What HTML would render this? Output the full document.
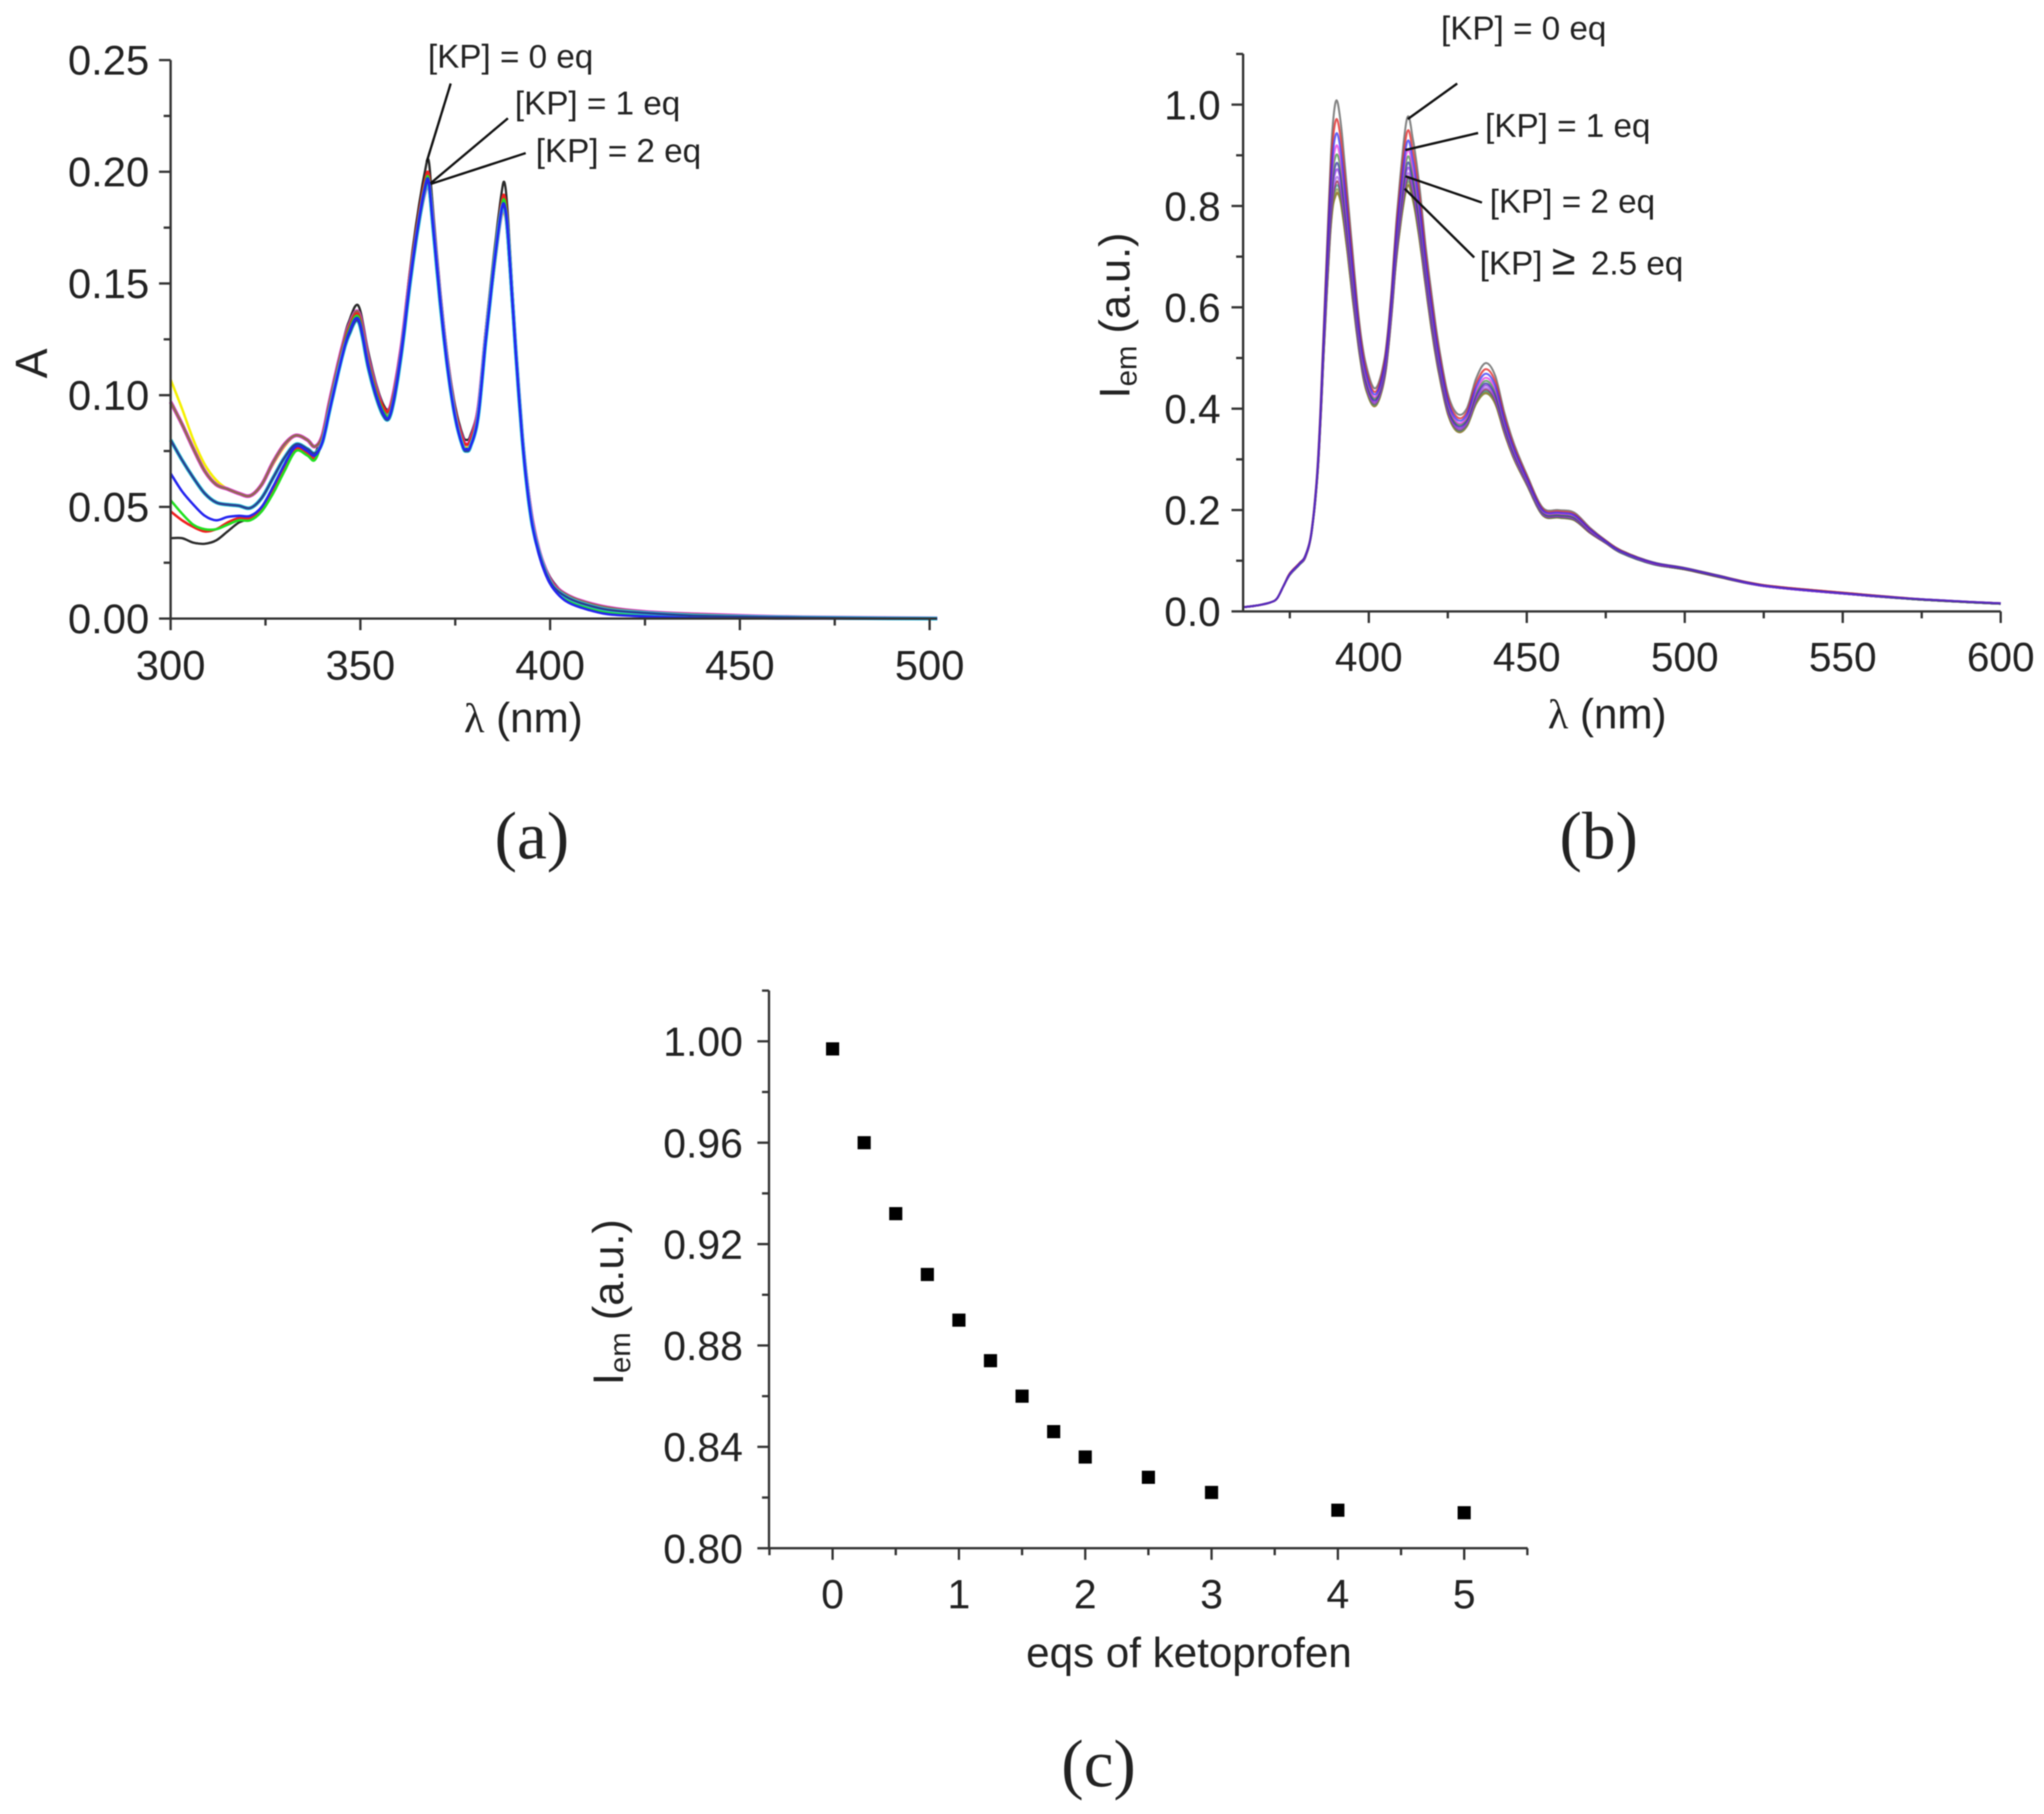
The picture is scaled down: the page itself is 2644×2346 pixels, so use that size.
<!DOCTYPE html>
<html lang="en">
<head>
<meta charset="utf-8">
<title>Absorption and emission titration with ketoprofen</title>
<style>
html,body{margin:0;padding:0;background:#fff;}
body{width:2644px;height:2346px;overflow:hidden;}
svg{display:block;filter:blur(0.7px);}
text{font-family:"Liberation Sans",Arial,sans-serif;fill:#222;}
.title{font-size:54.5px;}
.note{font-size:43px;}
.cap{font-family:"Liberation Serif","Times New Roman",serif;font-size:87px;}
.lam{font-family:"Liberation Serif","Times New Roman",serif;}
</style>
</head>
<body>
<svg id="figure" width="2644" height="2346" viewBox="0 0 2644 2346" xmlns="http://www.w3.org/2000/svg">
  <g id="panel-a">
    <g id="a-curves"></g>
    <g id="a-axes"></g>
    <text font-size="58" transform="translate(61,470) rotate(-90)" text-anchor="middle">A</text>
    <text class="title" x="677" y="947" text-anchor="middle"><tspan class="lam">λ</tspan> (nm)</text>
    <text class="note" x="553.5" y="87.5">[KP] = 0 eq</text>
    <text class="note" x="666" y="148">[KP] = 1 eq</text>
    <text class="note" x="693" y="209.5">[KP] = 2 eq</text>
    <line x1="583" y1="108" x2="552" y2="209" stroke="#111" stroke-width="3"/>
    <line x1="657" y1="153" x2="557" y2="237" stroke="#111" stroke-width="3"/>
    <line x1="680" y1="198" x2="557" y2="238" stroke="#111" stroke-width="3"/>
    <text class="cap" x="688" y="1110" text-anchor="middle">(a)</text>
  </g>
  <g id="panel-b">
    <g id="b-curves" stroke-opacity="0.72"></g>
    <g id="b-axes"></g>
    <text font-size="56" transform="translate(1461,408) rotate(-90)" text-anchor="middle">I<tspan font-size="38" dy="9">em</tspan><tspan dy="-9"> (a.u.)</tspan></text>
    <text class="title" x="2079" y="942" text-anchor="middle"><tspan class="lam">λ</tspan> (nm)</text>
    <text class="note" x="1864" y="51">[KP] = 0 eq</text>
    <text class="note" x="1921" y="177">[KP] = 1 eq</text>
    <text class="note" x="1927" y="275">[KP] = 2 eq</text>
    <text class="note" x="1914" y="355">[KP] <tspan font-size="56">≥</tspan><tspan dx="8"> 2.5 eq</tspan></text>
    <line x1="1885" y1="108" x2="1821" y2="154" stroke="#111" stroke-width="3"/>
    <line x1="1912" y1="172" x2="1818" y2="194" stroke="#111" stroke-width="3"/>
    <line x1="1917" y1="262" x2="1818" y2="228" stroke="#111" stroke-width="3"/>
    <line x1="1907" y1="333" x2="1817" y2="244" stroke="#111" stroke-width="3"/>
    <text class="cap" x="2068" y="1110" text-anchor="middle">(b)</text>
  </g>
  <g id="panel-c">
    <g id="c-points"></g>
    <g id="c-axes"></g>
    <text font-size="56" transform="translate(806,1684) rotate(-90)" text-anchor="middle">I<tspan font-size="38" dy="9">em</tspan><tspan dy="-9"> (a.u.)</tspan></text>
    <text class="title" x="1538" y="2156" text-anchor="middle">eqs of ketoprofen</text>
    <text class="cap" x="1421" y="2310" text-anchor="middle">(c)</text>
  </g>
</svg>
<script>
// ---------- Panel (a): absorbance spectra ----------
const absWavelengths = [300,303,306,309,312,315,318,321,324,327,330,333,336,338,340,342,345,347,349.5,352,354,356,357.5,359,361,363,365,367,368,369,371,373,375,377,378,379,381,383,385,387,388,389,391,393,395,397,399,401,404,408,415,425,440,460,480,502];
const absBlack = [.036,.036,.034,.0335,.035,.039,.043,.045,.049,.058,.069,.078,.076,.074,.083,.098,.121,.133,.140,.120,.106,.096,.094,.104,.126,.155,.180,.200,.205,.186,.148,.117,.095,.082,.080,.082,.095,.129,.160,.188,.195,.177,.122,.078,.049,.032,.022,.016,.011,.008,.005,.003,.0017,.0008,.0003,.0001];
const absYellow = [.107,.094,.080,.069,.062,.058,.056,.055,.060,.069,.077,.082,.080,.077,.081,.097,.119,.130,.136,.116,.103,.094,.092,.102,.122,.150,.172,.190,.193,.179,.143,.114,.092,.079,.077,.079,.092,.125,.152,.178,.181,.167,.118,.075,.047,.031,.021,.015,.011,.008,.005,.003,.0018,.0008,.0004,.0001];
const absBrown = [.097,.087,.076,.066,.060,.058,.056,.055,.060,.070,.078,.082,.080,.077,.082,.098,.120,.131,.137,.117,.104,.094,.093,.103,.124,.152,.174,.191,.194,.180,.144,.114,.092,.080,.078,.080,.093,.126,.155,.180,.183,.169,.119,.075,.047,.031,.021,.015,.011,.008,.005,.003,.0018,.0008,.0004,.0001];
const absRed = [.048,.044,.041,.039,.040,.043,.045,.045,.049,.058,.068,.076,.074,.072,.081,.096,.118,.130,.136,.116,.103,.095,.093,.102,.124,.153,.177,.196,.199,.182,.145,.115,.093,.080,.078,.080,.093,.127,.158,.184,.189,.173,.120,.076,.047,.031,.021,.015,.010,.007,.004,.0025,.0012,.0005,.0002,0];
const absGreen = [.053,.047,.042,.040,.040,.042,.044,.044,.048,.056,.066,.075,.073,.071,.080,.095,.117,.129,.135,.115,.102,.093,.091,.101,.123,.151,.175,.194,.197,.180,.144,.113,.091,.078,.076,.078,.091,.125,.156,.182,.187,.171,.119,.075,.046,.030,.020,.014,.009,.006,.003,.0015,.0005,.0002,0,0];
const absNavy = [.080,.071,.063,.056,.052,.051,.0505,.0495,.054,.063,.072,.078,.076,.074,.079,.094,.116,.127,.133,.113,.100,.091,.0895,.099,.121,.149,.173,.192,.195,.178,.142,.112,.090,.077,.075,.077,.090,.124,.155,.181,.184,.169,.118,.074,.045,.030,.020,.014,.010,.007,.004,.0025,.0012,.0006,.0002,0];
const absBlue = [.065,.057,.051,.046,.044,.0455,.046,.046,.050,.059,.069,.077,.075,.073,.079,.094,.116,.128,.134,.114,.101,.092,.090,.100,.122,.150,.174,.193,.196,.179,.143,.112,.090,.077,.076,.077,.090,.124,.155,.181,.185,.170,.118,.074,.045,.029,.019,.013,.008,.005,.002,.001,.0002,0,0,0];
const absXTicks = [300,350,400,450,500];
const absXTickLabels = ["300","350","400","450","500"];
const absXMinor = [325,375,425,475];
const absYTicks = [0,.05,.10,.15,.20,.25];
const absYTickLabels = ["0.00","0.05","0.10","0.15","0.20","0.25"];
const absYMinor = [.025,.075,.125,.175,.225];

// ---------- Panel (b): emission spectra ----------
const emWavelengths = [360,365,369,371,373,375,378,380,382,384,386,388,389.5,391,393,395,397,399,402,405,407,409,412,414,416,418,420,422,425,428,431,434,437,440,443,446,450,455,460,465,470,475,480,490,500,510,525,550,575,600];
const em0 = [.008,.012,.018,.026,.05,.075,.095,.112,.165,.31,.60,.90,1.005,.97,.84,.70,.57,.49,.44,.50,.62,.79,.97,.93,.84,.72,.62,.53,.43,.39,.40,.46,.49,.465,.39,.33,.27,.205,.2,.195,.165,.14,.12,.097,.086,.072,.052,.037,.024,.016];
const em1 = [.008,.012,.018,.026,.05,.075,.095,.111,.164,.306,.588,.872,.968,.938,.816,.682,.558,.48,.433,.492,.61,.774,.943,.906,.819,.704,.606,.519,.422,.383,.393,.45,.478,.454,.382,.324,.266,.202,.197,.192,.163,.139,.119,.096,.085,.071,.052,.037,.024,.016];
const em2 = [.008,.012,.018,.026,.05,.074,.094,.111,.163,.303,.579,.851,.940,.914,.798,.669,.549,.473,.428,.486,.603,.762,.923,.888,.803,.692,.596,.511,.416,.378,.388,.443,.469,.446,.376,.32,.263,.2,.195,.19,.162,.138,.118,.096,.085,.071,.051,.036,.024,.016];
const em3 = [.008,.012,.018,.026,.05,.074,.094,.110,.163,.30,.571,.833,.916,.893,.782,.657,.541,.466,.423,.481,.596,.752,.905,.872,.79,.682,.586,.504,.411,.373,.383,.436,.461,.439,.371,.316,.26,.198,.193,.188,.16,.138,.118,.095,.085,.071,.051,.036,.024,.016];
const em4 = [.008,.012,.018,.026,.05,.074,.094,.110,.162,.298,.565,.819,.898,.877,.77,.648,.535,.461,.42,.477,.591,.744,.892,.86,.779,.674,.579,.498,.407,.37,.38,.431,.455,.433,.367,.313,.258,.196,.191,.186,.159,.137,.117,.095,.084,.07,.051,.036,.023,.015];
const em5 = [.008,.012,.018,.026,.05,.074,.093,.110,.162,.297,.56,.806,.881,.863,.76,.64,.53,.457,.417,.473,.587,.736,.88,.85,.77,.666,.573,.493,.403,.367,.377,.427,.45,.428,.363,.31,.257,.195,.19,.185,.158,.137,.117,.094,.084,.07,.051,.036,.023,.015];
const em6 = [.008,.012,.018,.026,.05,.073,.093,.109,.161,.295,.556,.796,.868,.853,.751,.633,.526,.453,.414,.47,.583,.731,.87,.841,.762,.661,.568,.489,.40,.364,.374,.423,.446,.424,.36,.308,.255,.194,.189,.184,.157,.136,.116,.094,.084,.07,.05,.035,.023,.015];
const em7 = [.008,.012,.018,.026,.05,.073,.093,.109,.161,.294,.551,.785,.853,.839,.742,.626,.521,.449,.411,.467,.579,.724,.859,.832,.754,.654,.563,.485,.397,.361,.371,.419,.441,.42,.357,.305,.254,.193,.188,.183,.157,.136,.116,.094,.084,.07,.05,.035,.023,.015];
const em8 = [.008,.012,.018,.026,.05,.073,.093,.109,.161,.293,.548,.778,.844,.831,.736,.622,.518,.447,.41,.465,.576,.72,.852,.826,.749,.65,.559,.482,.395,.36,.37,.417,.438,.417,.355,.304,.253,.192,.187,.182,.156,.135,.116,.094,.083,.069,.05,.035,.023,.015];
const em9 = [.008,.012,.018,.026,.05,.072,.092,.108,.16,.292,.545,.773,.837,.824,.731,.618,.515,.445,.408,.464,.575,.717,.847,.821,.744,.647,.556,.48,.394,.358,.368,.415,.435,.415,.354,.303,.252,.191,.186,.181,.156,.135,.115,.093,.083,.069,.05,.035,.023,.015];
const em10 = [.008,.012,.018,.026,.05,.072,.092,.108,.16,.291,.543,.767,.829,.816,.726,.614,.513,.443,.407,.462,.573,.714,.842,.816,.74,.644,.554,.478,.392,.357,.367,.413,.433,.413,.352,.302,.251,.191,.186,.181,.155,.135,.115,.093,.083,.069,.05,.035,.023,.015];
const em11 = [.008,.012,.018,.026,.05,.072,.092,.108,.16,.29,.541,.761,.822,.811,.721,.611,.511,.441,.405,.46,.571,.711,.836,.811,.736,.641,.551,.476,.39,.355,.365,.411,.431,.41,.35,.3,.25,.19,.185,.18,.155,.135,.115,.093,.083,.069,.05,.035,.023,.015];
const em12 = [.008,.012,.018,.026,.05,.072,.092,.108,.16,.29,.54,.76,.82,.81,.72,.61,.51,.44,.405,.46,.57,.71,.835,.81,.735,.64,.55,.475,.39,.355,.365,.41,.43,.41,.35,.30,.25,.19,.185,.18,.155,.135,.115,.093,.083,.069,.05,.035,.023,.015];
const emXTicks = [400,450,500,550,600];
const emXTickLabels = ["400","450","500","550","600"];
const emXMinor = [375,425,475,525,575];
const emYTicks = [0,.2,.4,.6,.8,1.0];
const emYTickLabels = ["0.0","0.2","0.4","0.6","0.8","1.0"];
const emYMinor = [.1,.3,.5,.7,.9,1.1];

// ---------- Panel (c): quenching curve ----------
const ketoprofenEquivalents = [0,.25,.5,.75,1,1.25,1.5,1.75,2,2.5,3,4,5];
const emissionIntensity = [.997,.96,.932,.908,.89,.874,.86,.846,.836,.828,.822,.815,.814];
const eqXTicks = [0,1,2,3,4,5];
const eqXTickLabels = ["0","1","2","3","4","5"];
const eqXMinor = [-.5,.5,1.5,2.5,3.5,4.5,5.5];
const eqYTicks = [.80,.84,.88,.92,.96,1.00];
const eqYTickLabels = ["0.80","0.84","0.88","0.92","0.96","1.00"];
const eqYMinor = [.82,.86,.90,.94,.98,1.02];

const NS = 'http://www.w3.org/2000/svg';
function linear(d0, d1, r0, r1) {
  return function (v) { return r0 + (v - d0) * (r1 - r0) / (d1 - d0); };
}
function make(tag, parent, attrs) {
  const el = document.createElementNS(NS, tag);
  for (const k in attrs) el.setAttribute(k, attrs[k]);
  parent.appendChild(el);
  return el;
}
function smoothPath(xs, ys) {
  let d = 'M' + xs[0].toFixed(2) + ' ' + ys[0].toFixed(2);
  for (let i = 0; i < xs.length - 1; i++) {
    const p0 = Math.max(i - 1, 0), p3 = Math.min(i + 2, xs.length - 1);
    const c1x = xs[i] + (xs[i + 1] - xs[p0]) / 6, c1y = ys[i] + (ys[i + 1] - ys[p0]) / 6;
    const c2x = xs[i + 1] - (xs[p3] - xs[i]) / 6, c2y = ys[i + 1] - (ys[p3] - ys[i]) / 6;
    d += 'C' + c1x.toFixed(2) + ' ' + c1y.toFixed(2) + ' ' + c2x.toFixed(2) + ' ' + c2y.toFixed(2) + ' ' + xs[i + 1].toFixed(2) + ' ' + ys[i + 1].toFixed(2);
  }
  return d;
}
function drawCurve(group, sx, sy, xVals, yVals, color, width, name) {
  const path = make('path', group, {
    d: smoothPath(xVals.map(sx), yVals.map(sy)),
    fill: 'none', stroke: color, 'stroke-width': width, 'stroke-linejoin': 'round'
  });
  
  
}
function axisLine(group, x1, y1, x2, y2, name) {
  const line = make('line', group, { x1: x1, y1: y1, x2: x2, y2: y2, stroke: '#333', 'stroke-width': 3 });
  
  
}
function label(group, x, y, anchor, size, content, name) {
  const t = make('text', group, { x: x, y: y, 'text-anchor': anchor, 'font-size': size });
  t.textContent = content;
  
  
}
function drawAxes(group, sx, sy, cfg) {
  axisLine(group, cfg.left, cfg.top, cfg.left, cfg.bottom, 'y-axis-line');
  axisLine(group, cfg.left, cfg.bottom, cfg.right, cfg.bottom, 'x-axis-line');
  cfg.xTicks.forEach(function (v, i) {
    axisLine(group, sx(v), cfg.bottom, sx(v), cfg.bottom + 15, 'x-major-tick');
    label(group, sx(v), cfg.xLabelY, 'middle', cfg.size, cfg.xLabels[i], 'x-tick-label');
  });
  cfg.xMinor.forEach(function (v) {
    axisLine(group, sx(v), cfg.bottom, sx(v), cfg.bottom + 9, 'x-minor-tick');
  });
  cfg.yTicks.forEach(function (v, i) {
    axisLine(group, cfg.left - 15, sy(v), cfg.left, sy(v), 'y-major-tick');
    label(group, cfg.yLabelX, sy(v) + 19, 'end', cfg.size, cfg.yLabels[i], 'y-tick-label');
  });
  cfg.yMinor.forEach(function (v) {
    axisLine(group, cfg.left - 9, sy(v), cfg.left, sy(v), 'y-minor-tick');
  });
}

// Panel (a) drawing
const ax = linear(300, 500, 220.7, 1202.5);
const ay = linear(0, .25, 800, 77.7);
const aCurves = document.getElementById('a-curves');
drawCurve(aCurves, ax, ay, absWavelengths, absBlack, '#2a2a2a', 3, 'absorbance-curve-0-eq');
drawCurve(aCurves, ax, ay, absWavelengths, absYellow, '#f5f000', 3.2, 'absorbance-curve-yellow');
drawCurve(aCurves, ax, ay, absWavelengths, absBrown, '#e040d0', 5, 'absorbance-curve-magenta');
drawCurve(aCurves, ax, ay, absWavelengths, absBrown, '#8f6a4f', 3, 'absorbance-curve-brown');
drawCurve(aCurves, ax, ay, absWavelengths, absRed, '#f02020', 3.2, 'absorbance-curve-red');
drawCurve(aCurves, ax, ay, absWavelengths, absGreen, '#20e020', 3.2, 'absorbance-curve-green');
drawCurve(aCurves, ax, ay, absWavelengths, absNavy, '#30d0e0', 5, 'absorbance-curve-cyan');
drawCurve(aCurves, ax, ay, absWavelengths, absNavy, '#2a3f8f', 3, 'absorbance-curve-navy');
drawCurve(aCurves, ax, ay, absWavelengths, absBlue, '#2525f0', 3.2, 'absorbance-curve-blue');
drawAxes(document.getElementById('a-axes'), ax, ay, {
  left: 220.7, right: 1212, top: 77.7, bottom: 800, xLabelY: 879, yLabelX: 193, size: 54,
  xTicks: absXTicks, xLabels: absXTickLabels, xMinor: absXMinor,
  yTicks: absYTicks, yLabels: absYTickLabels, yMinor: absYMinor
});

// Panel (b) drawing
const bx = linear(400, 600, 1770.6, 2588);
const by = linear(0, 1, 790.7, 135.3);
const bCurves = document.getElementById('b-curves');
drawCurve(bCurves, bx, by, emWavelengths, em12, '#6f7f30', 2.6, 'emission-curve-12');
drawCurve(bCurves, bx, by, emWavelengths, em11, '#a07830', 2.6, 'emission-curve-11');
drawCurve(bCurves, bx, by, emWavelengths, em10, '#8f8f2f', 2.6, 'emission-curve-10');
drawCurve(bCurves, bx, by, emWavelengths, em9, '#309090', 2.6, 'emission-curve-9');
drawCurve(bCurves, bx, by, emWavelengths, em8, '#902040', 2.6, 'emission-curve-8');
drawCurve(bCurves, bx, by, emWavelengths, em7, '#a060e0', 2.6, 'emission-curve-7');
drawCurve(bCurves, bx, by, emWavelengths, em6, '#8a2be2', 2.6, 'emission-curve-6');
drawCurve(bCurves, bx, by, emWavelengths, em5, '#2a2a9a', 2.6, 'emission-curve-5');
drawCurve(bCurves, bx, by, emWavelengths, em4, '#3f8f3f', 2.6, 'emission-curve-4');
drawCurve(bCurves, bx, by, emWavelengths, em3, '#e030e0', 2.6, 'emission-curve-3');
drawCurve(bCurves, bx, by, emWavelengths, em0, '#555555', 2.6, 'emission-curve-0');
drawCurve(bCurves, bx, by, emWavelengths, em1, '#e01515', 2.6, 'emission-curve-1');
drawCurve(bCurves, bx, by, emWavelengths, em2, '#2b2bf5', 2.6, 'emission-curve-2');
drawAxes(document.getElementById('b-axes'), bx, by, {
  left: 1608, right: 2588, top: 69.6, bottom: 790.7, xLabelY: 868, yLabelX: 1579, size: 52.5,
  xTicks: emXTicks, xLabels: emXTickLabels, xMinor: emXMinor,
  yTicks: emYTicks, yLabels: emYTickLabels, yMinor: emYMinor
});

// Panel (c) drawing
const cx = linear(0, 5, 1077, 1894);
const cy = linear(.8, 1, 2002.3, 1346.7);
const cPoints = document.getElementById('c-points');
ketoprofenEquivalents.forEach(function (eq, i) {
  const size = 17;
  const point = make('rect', cPoints, {
    x: cx(eq) - size / 2, y: cy(emissionIntensity[i]) - size / 2,
    width: size, height: size, fill: '#000'
  });
  
  
});
drawAxes(document.getElementById('c-axes'), cx, cy, {
  left: 994.7, right: 1976, top: 1281, bottom: 2002.3, xLabelY: 2080, yLabelX: 961, size: 53,
  xTicks: eqXTicks, xLabels: eqXTickLabels, xMinor: eqXMinor,
  yTicks: eqYTicks, yLabels: eqYTickLabels, yMinor: eqYMinor
});
</script>
</body>
</html>
